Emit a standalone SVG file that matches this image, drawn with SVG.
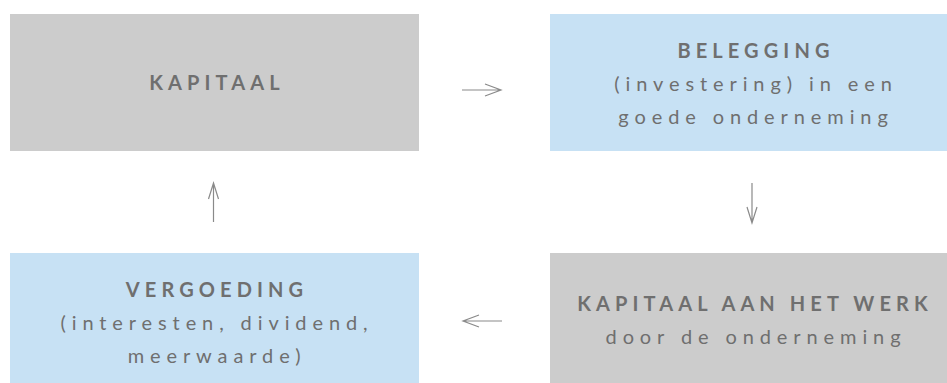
<svg xmlns="http://www.w3.org/2000/svg" width="947" height="383" viewBox="0 0 947 383">
<style>
.grey{fill:#cccccc}
.blue{fill:#c7e1f4}
text{font-family:Lato,"Open Sans","Liberation Sans",sans-serif;font-size:20px;fill:#6f6f6f;text-anchor:middle;letter-spacing:5.9px}
.cap{letter-spacing:5.1px;font-weight:bold}
.conn{stroke:#8a8a8a;stroke-width:1.2;fill:none}
</style>
<rect width="947" height="383" fill="#ffffff"/>
<g id="kapitaal">
<rect class="grey" x="10" y="14" width="409" height="137"/>
<text class="cap" x="217" y="90">KAPITAAL</text>
</g>
<g id="belegging">
<rect class="blue" x="550" y="14" width="397" height="137"/>
<text class="cap" x="756" y="58">BELEGGING</text>
<text x="756" y="91">(investering) in een</text>
<text x="756" y="124">goede onderneming</text>
</g>
<g id="werk">
<rect class="grey" x="550" y="253" width="397" height="130"/>
<text class="cap" x="755" y="311">KAPITAAL AAN HET WERK</text>
<text x="756" y="344">door de onderneming</text>
</g>
<g id="vergoeding">
<rect class="blue" x="10" y="253" width="409" height="130"/>
<text class="cap" x="217" y="297">VERGOEDING</text>
<text x="217" y="330">(interesten, dividend,</text>
<text x="217" y="363">meerwaarde)</text>
</g>
<g id="connectors">
<path class="conn" d="M462 90H501M485 84L501 90L485 96"/>
<path class="conn" d="M752 183V223M747 207L752 223L757 207"/>
<path class="conn" d="M502 321H463M479 315L463 321L479 327"/>
<path class="conn" d="M213.5 222V183M208.5 199L213.5 183L218.5 199"/>
</g>
</svg>
